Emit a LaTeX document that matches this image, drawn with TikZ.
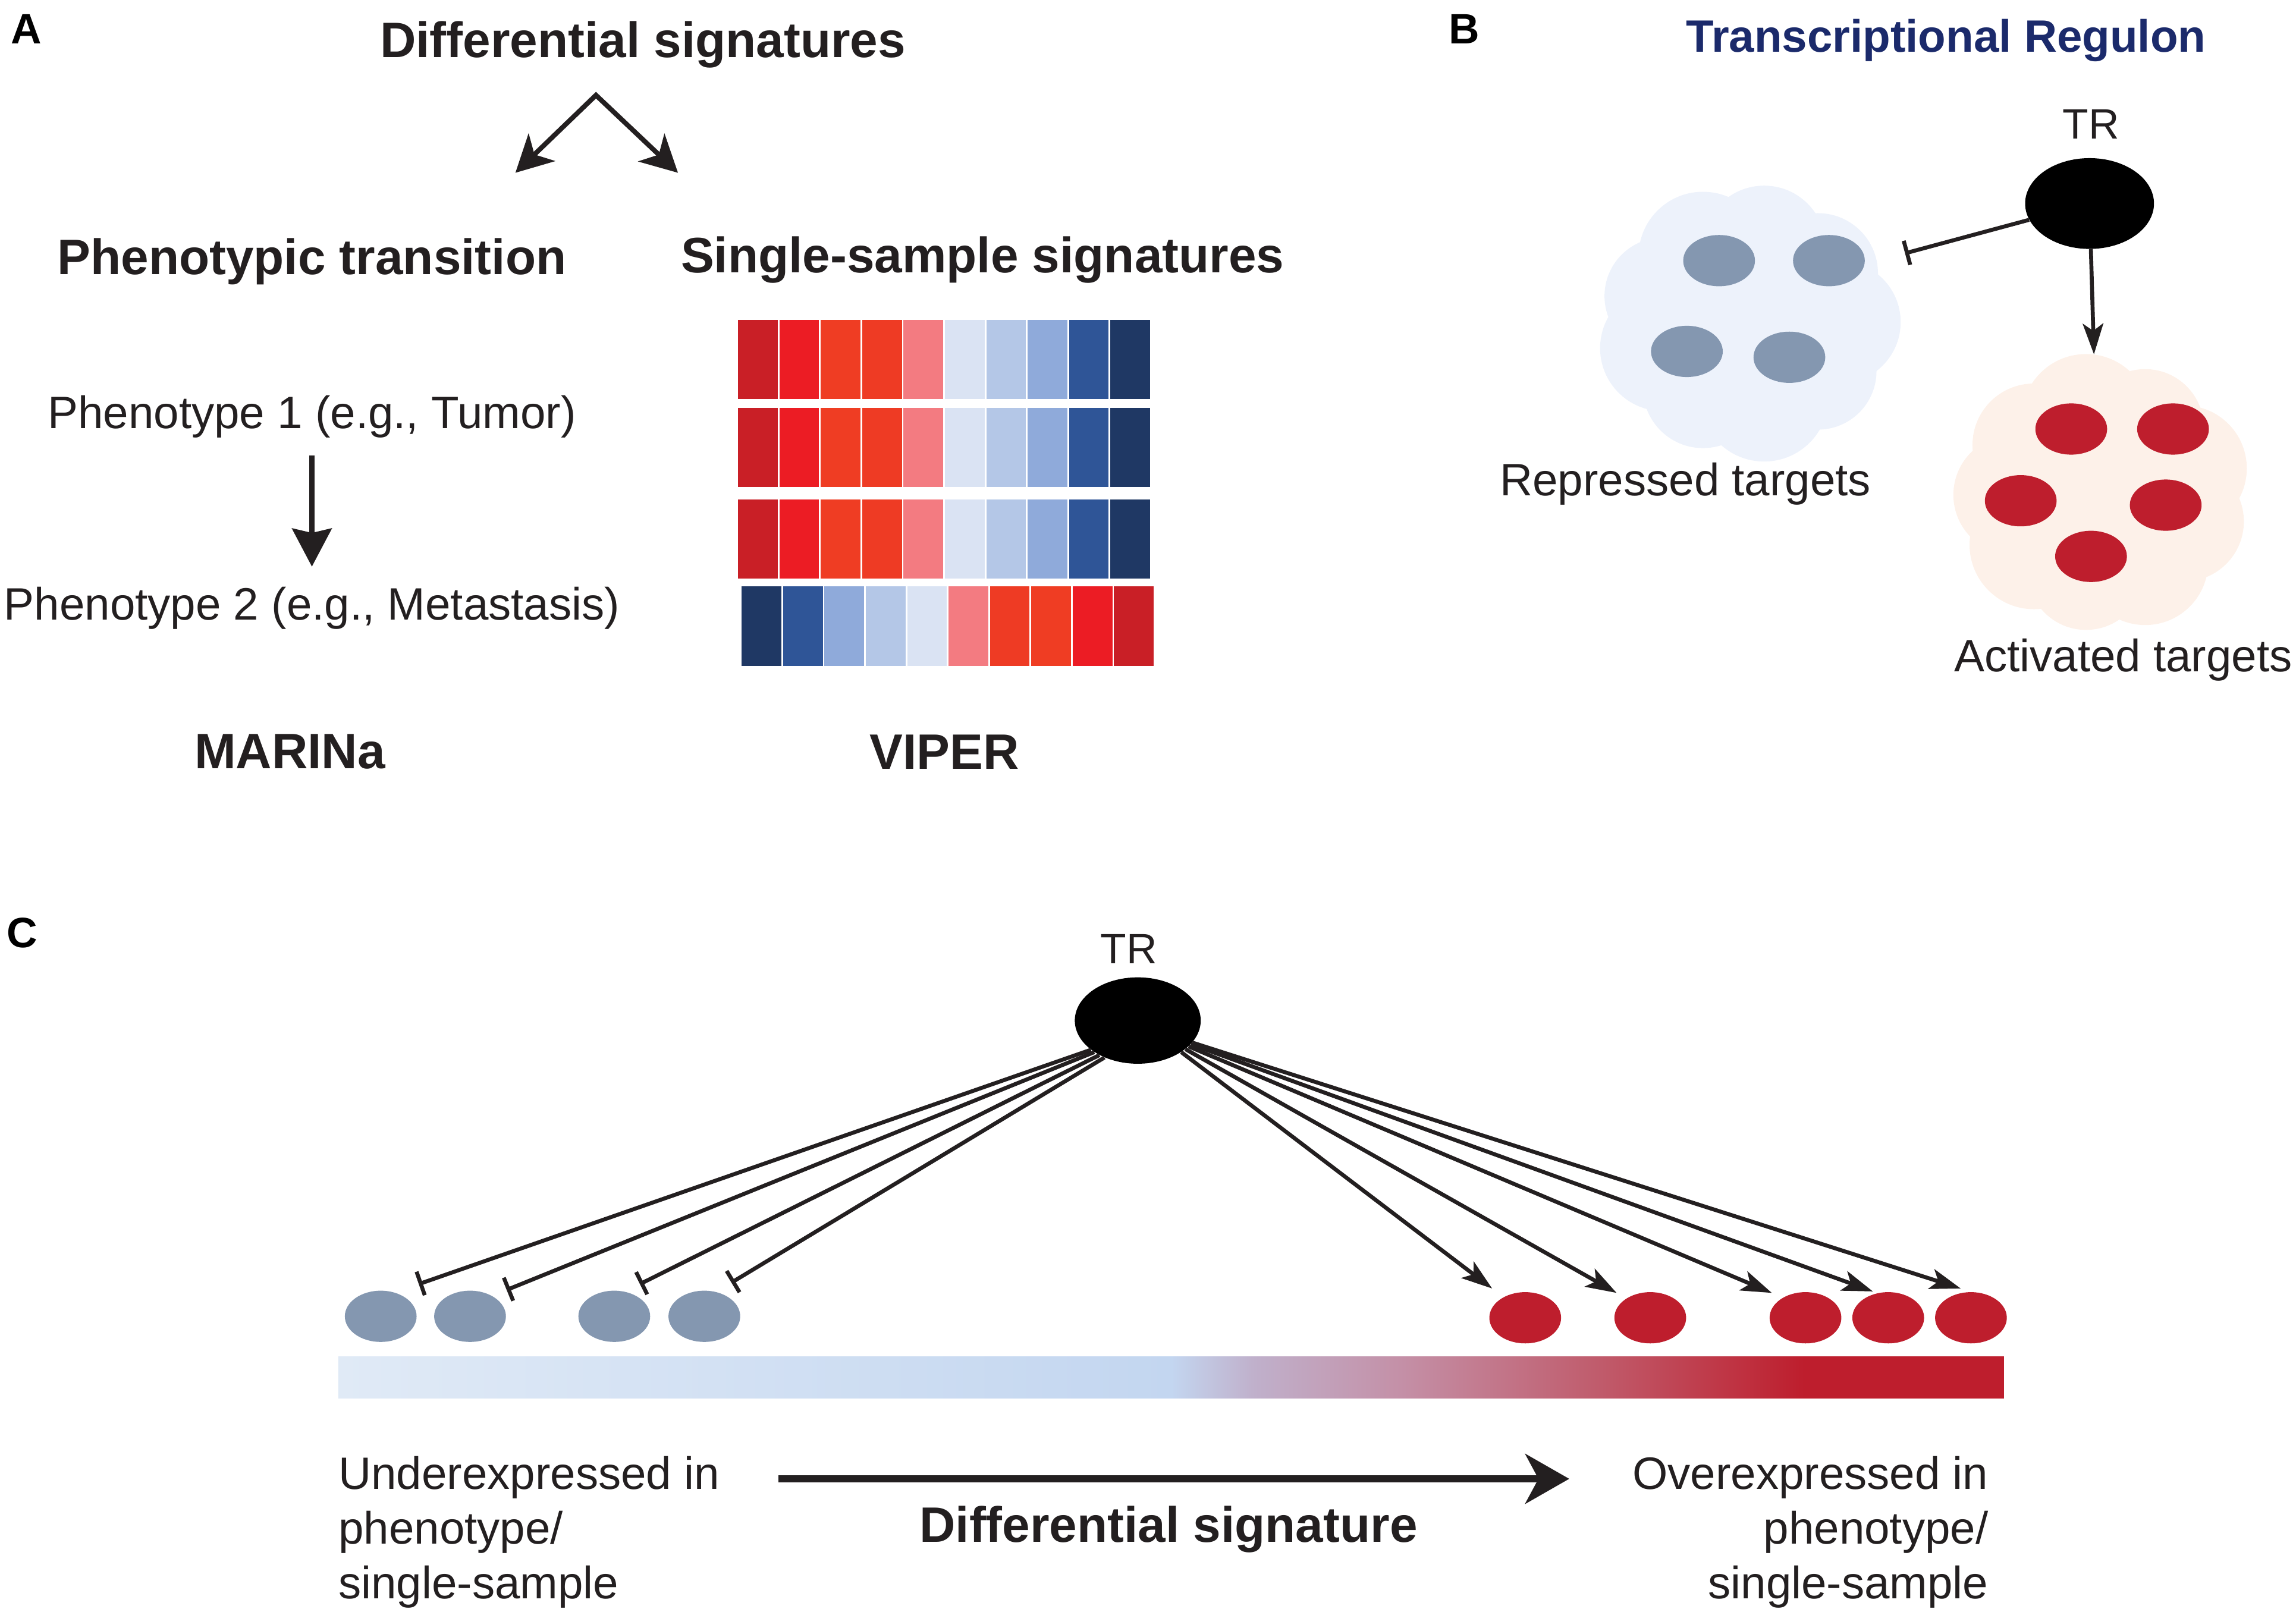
\documentclass[tikz,border=0pt]{standalone}
\usepackage{fontspec}
\setmainfont{Liberation Sans}
\usetikzlibrary{shapes.geometric,arrows.meta}

\definecolor{txt}{HTML}{231F20}
\definecolor{navy}{HTML}{1B2A6B}
\definecolor{repblue}{HTML}{8497B0}
\definecolor{actred}{HTML}{BE1E2D}
\definecolor{repcloud}{HTML}{EDF2FB}
\definecolor{actcloud}{HTML}{FDF1E9}
\definecolor{hm1}{HTML}{C91F26}
\definecolor{hm2}{HTML}{EC1C24}
\definecolor{hm3}{HTML}{EF3D23}
\definecolor{hm4}{HTML}{EE3B24}
\definecolor{hm5}{HTML}{F37B81}
\definecolor{hm6}{HTML}{DAE3F3}
\definecolor{hm7}{HTML}{B4C7E7}
\definecolor{hm8}{HTML}{8FAADA}
\definecolor{hm9}{HTML}{2F5597}
\definecolor{hm10}{HTML}{1F3864}
\definecolor{bar0}{HTML}{E0EAF6}
\definecolor{bar1}{HTML}{C3D6F0}
\definecolor{bar2}{HTML}{C0B0CB}
\definecolor{bar3}{HTML}{C48FA6}
\definecolor{bar4}{HTML}{C05A6A}

\pgfdeclarehorizontalshading{exprbar}{100bp}{color(0bp)=(bar0); color(25bp)=(bar0); color(50bp)=(bar1); color(52.5bp)=(bar2); color(57bp)=(bar3); color(63bp)=(bar4); color(69bp)=(actred); color(75bp)=(actred); color(100bp)=(actred)}

\tikzset{
  plainlbl/.style={font=\fontsize{31}{37.5}\selectfont, text=txt, inner sep=0pt, yshift=-2.5pt},
  headlbl/.style={font=\fontsize{34}{40}\selectfont\bfseries, text=txt, inner sep=0pt, yshift=-2.5pt},
  panellbl/.style={font=\fontsize{29}{34}\selectfont\bfseries, text=black, inner sep=0pt},
  trlbl/.style={font=\fontsize{29}{34}\selectfont, text=txt, inner sep=0pt},
  regulator/.style={ellipse, fill=black, inner sep=0pt},
  repressed/.style={ellipse, fill=repblue, minimum width=49pt, minimum height=35pt, inner sep=0pt},
  activated/.style={ellipse, fill=actred, minimum width=49pt, minimum height=35pt, inner sep=0pt},
  inhibit/.style={draw=txt, line width=2.7pt, -{Bar[width=17pt, line width=2.7pt]}},
  activate/.style={draw=txt, line width=2.7pt, -{Stealth[length=21pt, width=14pt, inset=5pt]}},
  splitarrow/.style={draw=txt, line width=3.3pt, line join=miter, {Stealth[length=25pt, width=26pt, inset=7pt]}-{Stealth[length=25pt, width=26pt, inset=7pt]}},
  downarrow/.style={draw=txt, line width=3.3pt, -{Stealth[length=26pt, width=27pt, inset=3pt]}},
  sigarrow/.style={draw=txt, line width=4.5pt, -{Stealth[length=30pt, width=34pt, inset=9pt]}}
}

\begin{document}
\begin{tikzpicture}[x=1pt, y=-1pt]
\useasboundingbox (0,0) rectangle (1568,1100.6);

% panel A
\begin{scope}[name prefix = a-]
    \node[panellbl] (A) at (18,20) {A};
    \node[headlbl] (diff) at (439,28) {Differential signatures};
    \coordinate (split) at (407,65);
    \coordinate (topheno) at (352,118);
    \coordinate (tosingle) at (463,118);
    \draw[splitarrow] (topheno) -- (split) -- (tosingle);
    \node[headlbl] (trans) at (213,176) {Phenotypic transition};
    \node[headlbl] (single) at (671,175) {Single-sample signatures};
    \node[plainlbl] (p1) at (213,282) {Phenotype 1 (e.g., Tumor)};
    \node[plainlbl] (p2) at (213,413) {Phenotype 2 (e.g., Metastasis)};
    \draw[downarrow, shorten <=11.9pt, shorten >=13.9pt] (p1) -- (p2);
    \node[headlbl] (marina) at (198,511) {MARINa};
    \node[headlbl] (viper) at (645,511) {VIPER};
    % heatmap
    \foreach \ytop in {218.5,278.6,341}
      \foreach \c [count=\i from 0] in {hm1,hm2,hm3,hm4,hm5,hm6,hm7,hm8,hm9,hm10}
        \fill[\c] ({504+\i*28.26},\ytop) rectangle ++(27.1,54);
    \foreach \c [count=\i from 0] in {hm10,hm9,hm8,hm7,hm6,hm5,hm4,hm3,hm2,hm1}
      \fill[\c] ({506.5+\i*28.26},400.6) rectangle ++(27.1,54.2);
\end{scope}

% panel B
\begin{scope}[name prefix = b-]
    \node[panellbl] (B) at (1000,20) {B};
    \node[headlbl, text=navy, font=\fontsize{31}{36}\selectfont\bfseries] (title) at (1329,25) {Transcriptional Regulon};
    \fill[repcloud] (1194,220) circle (72);
    \foreach \a/\r in {0/42,40/40,80/44,120/41,160/43,200/40,240/44,280/42,320/41}
      \fill[repcloud] (1194,220) ++(\a:62 and 52) circle (\r);
    \fill[actcloud] (1435,338) circle (72);
    \foreach \a/\r in {20/41,60/43,100/40,140/44,180/41,220/42,260/44,300/40,340/43}
      \fill[actcloud] (1435,338) ++(\a:60 and 53) circle (\r);
    \node[trlbl] (trtxt) at (1428,85) {TR};
    \node[regulator, minimum width=88pt, minimum height=62pt] (TR) at (1427,139) {};
    \foreach \n/\x/\y in {g1/1174/178, g2/1249/178, g3/1152/240, g4/1222/244}
      \node[repressed] (\n) at (\x,\y) {};
    \foreach \n/\x/\y in {r1/1414.5/293, r2/1484/293, r3/1380/342, r4/1479/345, r5/1428/380}
      \node[activated] (\n) at (\x,\y) {};
    \coordinate (rep) at (1301,173);
    \coordinate (act) at (1430,242);
    \draw[inhibit] (TR) -- (rep);
    \draw[activate] (TR) -- (act);
    \node[plainlbl] (reptxt) at (1151,328) {Repressed targets};
    \node[plainlbl] (acttxt) at (1450,448) {Activated targets};
\end{scope}

% panel C
\begin{scope}[name prefix = c-]
    \node[panellbl] (C) at (15,637) {C};
    \node[trlbl] (trtxt) at (771,648) {TR};
    \node[regulator, minimum width=86pt, minimum height=59pt] (TR) at (777,697) {};
    \foreach \n/\x in {g1/260, g2/321, g3/419.5, g4/481}
      \node[repressed] (\n) at (\x,899) {};
    \foreach \n/\x in {r1/1041.6, r2/1127, r3/1233, r4/1289.5, r5/1346}
      \node[activated] (\n) at (\x,900) {};
    \foreach \n/\a/\dx/\dy in {g1/212/26/-22, g2/216/25/-18, g3/222/17.5/-22, g4/228/18.5/-23}
      \draw[inhibit] (TR.\a) -- ([shift={(\dx,\dy)}]\n.center);
    \foreach \n/\a/\dx/\dy in {r1/324/-22.6/-20, r2/329/-23/-17, r3/333/-23/-17, r4/336/-10.5/-18, r5/338/-7/-20}
      \draw[activate] (TR.\a) -- ([shift={(\dx,\dy)}]\n.center);
    \shade[shading=exprbar] (231,926.5) rectangle (1368.5,955);
    \node[plainlbl, align=left, anchor=west] (under) at (231,1044) {Underexpressed in\\phenotype/\\single-sample};
    \node[plainlbl, align=right, anchor=east] (over) at (1358,1044) {Overexpressed in\\phenotype/\\single-sample};
    \node[headlbl] (diffsig) at (798,1042) {Differential signature};
    \draw[sigarrow, shorten <=40pt, shorten >=43pt] ([yshift=36.5pt]under.east) -- ([yshift=36.5pt]over.west);
\end{scope}

\end{tikzpicture}
\end{document}
